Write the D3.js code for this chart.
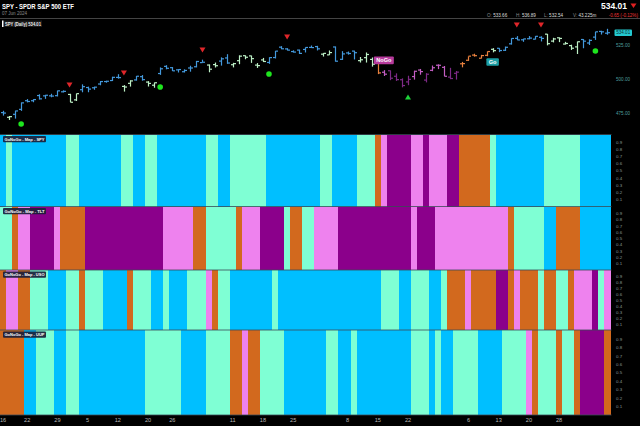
<!DOCTYPE html>
<html><head><meta charset="utf-8">
<script src="https://cdn.jsdelivr.net/npm/d3@7"></script>
<style>
html,body{margin:0;padding:0;background:#000;}
svg{display:block;font-family:"Liberation Sans",Arial,sans-serif;}
</style></head>
<body><svg id="c" width="640" height="426"></svg>
<script>
// ---------- DATA ----------
const dates = ["Jan 16","Jan 17","Jan 18","Jan 19","Jan 22","Jan 23","Jan 24","Jan 25","Jan 26","Jan 29","Jan 30","Jan 31","Feb 1","Feb 2","Feb 5","Feb 6","Feb 7","Feb 8","Feb 9","Feb 12","Feb 13","Feb 14","Feb 15","Feb 16","Feb 20","Feb 21","Feb 22","Feb 23","Feb 26","Feb 27","Feb 28","Feb 29","Mar 1","Mar 4","Mar 5","Mar 6","Mar 7","Mar 8","Mar 11","Mar 12","Mar 13","Mar 14","Mar 15","Mar 18","Mar 19","Mar 20","Mar 21","Mar 22","Mar 25","Mar 26","Mar 27","Mar 28","Apr 1","Apr 2","Apr 3","Apr 4","Apr 5","Apr 8","Apr 9","Apr 10","Apr 11","Apr 12","Apr 15","Apr 16","Apr 17","Apr 18","Apr 19","Apr 22","Apr 23","Apr 24","Apr 25","Apr 26","Apr 29","Apr 30","May 1","May 2","May 3","May 6","May 7","May 8","May 9","May 10","May 13","May 14","May 15","May 16","May 17","May 20","May 21","May 22","May 23","May 24","May 28","May 29","May 30","May 31","Jun 3","Jun 4","Jun 5","Jun 6","Jun 7"];

const open  = [475.26,471.82,474.01,477.65,484.01,484.01,487.81,487.58,487.59,487.73,490.56,488.62,484.63,492.11,493.70,493.52,496.29,498.10,498.84,501.17,494.53,496.79,499.29,501.70,497.72,495.42,504.01,509.27,508.30,506.70,505.33,508.07,508.98,512.03,510.24,510.55,513.14,515.46,510.48,513.45,517.11,516.97,510.21,514.00,512.15,515.77,523.39,522.11,520.17,521.23,521.71,523.21,523.83,518.24,517.72,523.52,514.46,519.15,520.50,513.48,515.68,514.37,515.13,504.94,506.05,501.98,499.44,497.83,501.78,506.56,499.18,506.35,510.09,508.56,501.38,504.15,511.16,513.75,517.56,515.26,517.38,521.81,522.56,521.11,525.83,529.88,528.81,529.57,529.28,530.65,532.96,527.85,530.27,525.68,524.52,523.59,529.02,526.46,530.77,534.98,533.66];
const high  = [476.61,472.79,476.67,482.72,485.22,485.11,488.77,488.31,489.12,491.42,491.62,489.08,489.23,496.05,494.38,494.32,498.53,498.71,501.65,503.50,495.48,499.07,502.20,502.87,498.41,497.37,508.49,510.13,508.75,507.16,507.10,509.74,513.29,514.20,510.70,512.07,515.89,518.22,511.88,517.38,517.29,517.13,511.70,515.48,516.00,520.62,524.11,522.61,521.08,521.58,523.21,524.61,524.38,518.98,520.95,523.87,520.44,520.18,520.75,516.16,519.48,515.82,515.30,506.50,506.22,504.13,500.46,502.38,506.09,507.37,504.27,509.88,510.75,509.56,508.19,505.89,512.55,516.61,518.57,517.74,520.21,522.64,522.67,523.83,529.93,531.52,529.52,531.56,531.52,531.38,533.07,530.27,530.51,527.31,525.20,527.50,529.31,529.15,534.69,535.42,536.89];
const low   = [473.06,469.87,470.85,476.54,482.78,482.89,484.88,485.39,486.54,487.17,490.11,482.86,483.80,490.21,490.23,492.05,495.36,497.26,498.49,500.24,490.72,494.40,498.80,498.75,494.45,493.56,503.02,507.10,505.86,504.75,504.80,505.35,508.56,512.00,504.91,508.42,509.81,511.13,508.50,510.86,514.49,511.82,508.12,512.44,511.12,515.08,521.91,520.97,519.49,518.40,519.49,522.78,520.97,516.48,517.67,512.76,514.01,517.89,514.35,512.09,512.08,509.08,503.58,502.21,499.12,498.56,493.86,495.43,499.53,503.13,497.49,505.70,507.25,501.98,499.87,499.55,508.56,513.30,516.45,515.14,516.71,519.59,519.74,520.56,525.30,528.54,527.32,529.17,529.07,527.60,524.72,526.88,527.11,525.37,521.33,518.36,522.60,524.96,528.73,532.68,532.54];
const close = [474.93,472.29,476.49,482.43,483.45,484.86,485.39,488.03,487.41,491.27,490.89,482.88,489.20,494.35,492.55,493.98,498.10,498.32,501.20,500.98,494.08,498.57,502.01,499.51,496.76,497.21,507.50,507.85,505.99,506.93,506.26,508.08,512.85,512.30,507.18,509.75,514.81,511.72,511.28,516.78,515.97,514.95,509.83,512.86,515.71,520.48,522.20,521.21,519.77,518.81,523.17,523.07,522.16,518.84,519.41,513.07,518.43,518.72,519.32,514.12,518.00,510.85,504.45,503.53,500.55,499.52,495.16,499.72,505.65,505.41,503.49,508.26,510.06,501.98,500.35,505.03,511.29,516.78,517.14,517.19,520.17,520.84,520.91,523.30,529.78,528.69,529.45,530.06,531.36,529.83,525.96,529.44,529.81,526.10,522.61,527.37,527.80,528.39,534.67,534.66,534.01];

// GoNoGo map states: B = strong Go, A = weak Go, O = neutral, P = weak NoGo, U = strong NoGo
const spyMap = "BABBBBBBBBBAABBBBBBBAABBAABBBBBBBBAABBAAAAAABBBBBBBBBAABBBBAAAOPUUUUPPUPPPUUOOOOOABBBBBBBBAAAAAABBBBB".split("");
const tltMap = "AAOPPUUUUPOOOOUUUUUUUUUUUUUPPPPPOOAAAAAOPPPUUUUAOOAAPPPPUUUUUUUUUUUUPUUUPPPPPPPPPPPPOAAAAABBOOOOBBBBB".split("");
const usoMap = "OPPOOAAABBBAAOAAABBBBOAAABBABBBAAAPOAABBBBBBBABBBBBBBBBBBBBBBBBAAABBAAABBAOOOPOOOOUUOPOOOAOOAAOPPPUAP".split("");
const uupMap = "OOOOBBAAABBAABBBBBBBBBBBAAAAAABBBBAAAAOOPOOAAAABBBBBBBAABBABBBBBBBBBAAABABBAAAABBBBAAAAPOAAAOAAOUUUUO".split("");
const mapNames = ["SPY","TLT","USO","UUP"];

const xTickIdx    = [0,4,9,14,19,24,28,38,43,48,57,62,67,77,82,87,92];
const xTickLabels = ["16","22","29","5","12","20","26","11","18","25","8","15","22","6","13","20","28"];
const priceTicks  = [475,500,525];
const mapTicks    = [0.1,0.2,0.3,0.4,0.5,0.6,0.7,0.8,0.9];

const redTriIdx = [11,20,33,47,85,89];
const redTriPrice = [495.6,504.4,521.3,530.9,539.7,539.7];
const greenDotIdx = [3,26,44,98];
const greenDotPrice = [466.9,494.1,503.7,520.6];
const greenUpIdx = [67];
const greenUpPrice = [486.8];
const trendLabels = [{i:63, p:513.7, t:"NoGo", k:"nogo"},{i:81, p:512.5, t:"Go", k:"go"}];

// ---------- STYLE ----------
const mapColor = {B:"#00BFFF",A:"#7FFFD4",O:"#D2691E",P:"#EE82EE",U:"#8B008B"};
const barColor = {B:"#4499dc",A:"#bdf0c6",O:"#e8803e",P:"#c35ec3",U:"#7e2a86"};

const svg = d3.select("#c");
svg.append("rect").attr("width",640).attr("height",426).attr("fill","#000");

const x = d3.scaleBand().domain(d3.range(dates.length)).range([0,610.5]).paddingInner(0).paddingOuter(0);
const bw = x.bandwidth();
const cx = i => x(i) + bw/2;

// ---------- HEADER ----------
svg.append("text").attr("x",2).attr("y",9).attr("fill","#fff").attr("font-size",8).attr("font-weight","bold")
  .attr("textLength",72).attr("lengthAdjust","spacingAndGlyphs").text("SPY - SPDR S&P 500 ETF");
svg.append("text").attr("x",2).attr("y",15).attr("fill","#8a8a8a").attr("font-size",4.6)
  .attr("textLength",25).attr("lengthAdjust","spacingAndGlyphs").text("07 Jun 2024");
svg.append("text").attr("x",627).attr("y",9).attr("text-anchor","end").attr("fill","#fff").attr("font-size",8.5).attr("font-weight","bold").text("534.01");
svg.append("path").attr("d","M630.5,3.5 L636.5,3.5 L633.5,8 Z").attr("fill","#e02020");
const hdr = [["O:",487,"533.66"],["H:",516,"536.89"],["L:",544,"532.54"],["V:",573,"43.225m"]];
hdr.forEach(h=>{
  const t = svg.append("text").attr("x",h[1]).attr("y",17).attr("font-size",4.6);
  t.append("tspan").attr("fill","#8a8a8a").text(h[0]+" ");
  t.append("tspan").attr("fill","#ddd").text(h[2]);
});
svg.append("text").attr("x",638).attr("y",17).attr("text-anchor","end").attr("font-size",4.6).attr("fill","#e33").text("-0.65 (-0.12%)");
svg.append("line").attr("x1",0).attr("x2",640).attr("y1",18.5).attr("y2",18.5).attr("stroke","#555").attr("stroke-width",0.8);

// ---------- PRICE PANEL ----------
const y = d3.scaleLinear().domain([458.8,544.1]).range([135,19]);
const pg = svg.append("g");
dates.forEach((d,i)=>{
  const c = barColor[spyMap[i]], xc = Math.round(cx(i))+0.5;
  pg.append("line").attr("x1",xc).attr("x2",xc).attr("y1",y(high[i])).attr("y2",y(low[i])).attr("stroke",c).attr("stroke-width",1.2);
  pg.append("line").attr("x1",xc-2.5).attr("x2",xc).attr("y1",y(open[i])).attr("y2",y(open[i])).attr("stroke",c).attr("stroke-width",1.2);
  pg.append("line").attr("x1",xc).attr("x2",xc+2.5).attr("y1",y(close[i])).attr("y2",y(close[i])).attr("stroke",c).attr("stroke-width",1.2);
});
redTriIdx.forEach((i,k)=>{
  const xc=cx(i), yc=y(redTriPrice[k]);
  pg.append("path").attr("d",`M${xc-3},${yc-2.5} L${xc+3},${yc-2.5} L${xc},${yc+2.5} Z`).attr("fill","#e0262a");
});
greenDotIdx.forEach((i,k)=>{
  pg.append("circle").attr("cx",cx(i)).attr("cy",y(greenDotPrice[k])).attr("r",2.8).attr("fill","#1ee51e");
});
greenUpIdx.forEach((i,k)=>{
  const xc=cx(i), yc=y(greenUpPrice[k]);
  pg.append("path").attr("d",`M${xc-3},${yc+2.5} L${xc+3},${yc+2.5} L${xc},${yc-2.5} Z`).attr("fill","#1ed33a");
});
trendLabels.forEach(l=>{
  const w = l.k==="nogo"?20:12.5, xc=cx(l.i), yc=y(l.p);
  pg.append("rect").attr("x",xc-w/2).attr("y",yc-3.8).attr("width",w).attr("height",7.6).attr("rx",1)
    .attr("fill", l.k==="nogo"?"#b63a9c":"#1a9ea4");
  pg.append("text").attr("x",xc).attr("y",yc+2).attr("text-anchor","middle").attr("font-size",5.6).attr("font-weight","bold").attr("fill","#fff").text(l.t);
});
// price axis
const ya = svg.append("g").attr("transform","translate(614,0)")
  .call(d3.axisRight(y).tickValues(priceTicks).tickFormat(d3.format(".2f")).tickSize(0).tickPadding(2));
ya.select(".domain").remove();
ya.selectAll("text").attr("fill","#4f9f9c").attr("font-size",4.6).attr("font-family","Liberation Sans,Arial,sans-serif");
// last price tag
svg.append("rect").attr("x",614.5).attr("y",y(534.01)-3.2).attr("width",17.5).attr("height",6.4).attr("rx",1).attr("fill","#24c9d0");
svg.append("text").attr("x",623.2).attr("y",y(534.01)+1.7).attr("text-anchor","middle").attr("font-size",4.6).attr("fill","#0a3036").text("534.01");
// legend
svg.append("rect").attr("x",2).attr("y",20.5).attr("width",1.5).attr("height",6.5).attr("fill","#fff");
svg.append("rect").attr("x",4).attr("y",20.5).attr("width",38).attr("height",6.5).attr("fill","#1a1a1a");
svg.append("text").attr("x",5).attr("y",25.6).attr("font-size",4.6).attr("font-weight","bold").attr("fill","#eee")
  .attr("textLength",36).attr("lengthAdjust","spacingAndGlyphs").text("SPY (Daily) 534.01");

// ---------- MAP PANELS ----------
const panels = [[134.5,206.5],[206.5,270],[270,330],[330,415]];
const maps = [spyMap,tltMap,usoMap,uupMap];
maps.forEach((m,pi)=>{
  const [t,b] = panels[pi];
  const g = svg.append("g");
  g.selectAll("rect").data(m).join("rect")
    .attr("x",(d,i)=>x(i)).attr("width",bw+0.6).attr("y",t).attr("height",b-t)
    .attr("fill",d=>mapColor[d]).attr("shape-rendering","crispEdges");
  const ys = d3.scaleLinear().domain([0,1]).range([b-0.5,t+0.5]);
  const ax = svg.append("g").attr("transform","translate(614,0)")
    .call(d3.axisRight(ys).tickValues(mapTicks).tickFormat(d3.format(".1f")).tickSize(0).tickPadding(2));
  ax.select(".domain").remove();
  ax.selectAll("text").attr("fill","#8c9a9a").attr("font-size",4.4).attr("font-family","Liberation Sans,Arial,sans-serif");
  // label
  g.append("rect").attr("x",3).attr("y",t+1.5).attr("width",43).attr("height",6.3).attr("rx",1).attr("fill","#1b1f3a").attr("opacity",0.92);
  g.append("text").attr("x",4.5).attr("y",t+6.3).attr("font-size",4.4).attr("font-weight","bold").attr("fill","#fff")
    .attr("textLength",40).attr("lengthAdjust","spacingAndGlyphs").text("GoNoGo - Map - "+mapNames[pi]);
  svg.append("line").attr("x1",0).attr("x2",611.5).attr("y1",t).attr("y2",t).attr("stroke","#3a4a55").attr("stroke-width",0.8);
});
svg.append("line").attr("x1",0).attr("x2",611.5).attr("y1",415).attr("y2",415).attr("stroke","#3a4a55").attr("stroke-width",0.8);

// ---------- X AXIS ----------
const xa = svg.append("g").attr("transform","translate(0,416)")
  .call(d3.axisBottom(x).tickValues(xTickIdx).tickFormat((d,k)=>xTickLabels[k]).tickSize(0).tickPadding(2));
xa.select(".domain").remove();
xa.selectAll("text").attr("fill","#b8b8b8").attr("font-size",5.6).attr("font-family","Liberation Sans,Arial,sans-serif");
</script></body></html>
